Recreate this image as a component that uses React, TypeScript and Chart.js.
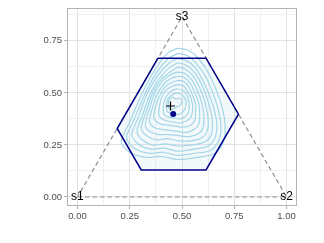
import React, { useEffect, useRef } from "react";
import { Chart, registerables } from "chart.js";
Chart.register(...registerables);

// ---- data ----
const xMajor = [0, 0.25, 0.5, 0.75, 1];
const xMinor = [0.125, 0.375, 0.625, 0.875];
const yMajor = [0, 0.25, 0.5, 0.75];
const yMinor = [0.125, 0.375, 0.625, 0.875];

const vertexLabels = ["s1", "s2", "s3"];
const vertexX = [0, 1, 0.5];
const vertexY = [0, 0, 0.866];

const hexX = [0.385, 0.615, 0.77, 0.615, 0.305, 0.19];
const hexY = [0.667, 0.667, 0.398, 0.13, 0.13, 0.329];

const plusPoint = { x: 0.445, y: 0.437 };
const dotPoint = { x: 0.458, y: 0.399 };

const contours: number[][][] = [
  [[0.48,0.715],[0.53,0.705],[0.575,0.67],[0.63,0.59],[0.68,0.47],[0.705,0.36],[0.70,0.27],[0.66,0.21],[0.57,0.19],[0.48,0.18],[0.40,0.195],[0.33,0.19],[0.25,0.215],[0.21,0.265],[0.25,0.36],[0.31,0.50],[0.37,0.61],[0.43,0.69]],
  [[0.48,0.69],[0.525,0.68],[0.565,0.645],[0.615,0.575],[0.66,0.465],[0.685,0.36],[0.68,0.28],[0.64,0.225],[0.56,0.21],[0.48,0.20],[0.41,0.215],[0.34,0.21],[0.27,0.235],[0.235,0.285],[0.27,0.37],[0.325,0.50],[0.38,0.60],[0.435,0.665]],
  [[0.48,0.665],[0.52,0.655],[0.56,0.625],[0.60,0.56],[0.64,0.465],[0.665,0.365],[0.66,0.29],[0.625,0.245],[0.555,0.23],[0.48,0.22],[0.415,0.235],[0.35,0.23],[0.29,0.255],[0.26,0.30],[0.29,0.38],[0.335,0.50],[0.39,0.59],[0.44,0.645]],
  [[0.48,0.645],[0.515,0.635],[0.555,0.605],[0.59,0.55],[0.625,0.46],[0.645,0.37],[0.64,0.30],[0.61,0.265],[0.55,0.25],[0.48,0.245],[0.42,0.255],[0.36,0.25],[0.31,0.275],[0.285,0.315],[0.31,0.39],[0.35,0.50],[0.40,0.58],[0.445,0.625]],
  [[0.48,0.625],[0.515,0.615],[0.55,0.585],[0.58,0.535],[0.61,0.455],[0.625,0.375],[0.62,0.315],[0.595,0.285],[0.545,0.27],[0.485,0.27],[0.43,0.28],[0.375,0.275],[0.33,0.295],[0.305,0.33],[0.325,0.40],[0.36,0.50],[0.405,0.57],[0.45,0.605]],
  [[0.48,0.60],[0.51,0.595],[0.545,0.565],[0.57,0.52],[0.595,0.45],[0.605,0.385],[0.60,0.33],[0.58,0.305],[0.535,0.29],[0.485,0.295],[0.435,0.30],[0.39,0.30],[0.345,0.315],[0.325,0.345],[0.34,0.41],[0.37,0.50],[0.41,0.56],[0.45,0.59]],
  [[0.48,0.58],[0.51,0.575],[0.54,0.545],[0.56,0.505],[0.58,0.45],[0.585,0.39],[0.58,0.35],[0.56,0.325],[0.52,0.31],[0.48,0.315],[0.44,0.32],[0.40,0.325],[0.365,0.335],[0.345,0.36],[0.355,0.415],[0.38,0.49],[0.415,0.545],[0.45,0.57]],
  [[0.48,0.56],[0.51,0.555],[0.535,0.525],[0.55,0.49],[0.565,0.445],[0.565,0.40],[0.56,0.365],[0.54,0.345],[0.505,0.335],[0.47,0.34],[0.435,0.345],[0.40,0.35],[0.38,0.36],[0.365,0.38],[0.37,0.42],[0.39,0.48],[0.42,0.53],[0.45,0.55]],
  [[0.48,0.54],[0.505,0.535],[0.525,0.51],[0.54,0.48],[0.55,0.445],[0.55,0.41],[0.54,0.38],[0.52,0.365],[0.49,0.355],[0.46,0.36],[0.43,0.365],[0.405,0.375],[0.39,0.39],[0.39,0.42],[0.40,0.47],[0.42,0.51],[0.45,0.53]],
  [[0.475,0.52],[0.50,0.515],[0.52,0.495],[0.53,0.465],[0.535,0.435],[0.53,0.405],[0.515,0.385],[0.49,0.375],[0.46,0.38],[0.435,0.385],[0.415,0.395],[0.41,0.42],[0.415,0.46],[0.43,0.49],[0.45,0.51]],
  [[0.47,0.50],[0.495,0.495],[0.51,0.48],[0.52,0.455],[0.515,0.425],[0.50,0.405],[0.475,0.395],[0.45,0.40],[0.43,0.41],[0.425,0.435],[0.43,0.465],[0.445,0.485]],
  [[0.455,0.48],[0.47,0.47],[0.49,0.475],[0.50,0.46],[0.49,0.44],[0.47,0.43],[0.45,0.42],[0.435,0.43],[0.435,0.455],[0.44,0.47]],
];

const FONT = "'Liberation Sans', Arial, Helvetica, sans-serif";

export default function App() {
  const ref = useRef<HTMLCanvasElement>(null);
  useEffect(() => {
    const canvas = ref.current!;
    const isMajor = (v: number) => Math.abs(v * 4 - Math.round(v * 4)) < 1e-6;
    const closed = (pts: number[][]) => [...pts, pts[0]].map(([x, y]) => ({ x, y }));

    const datasets: any[] = [];
    datasets.push({
      data: [plusPoint], showLine: false, pointStyle: "cross", pointRadius: 4.5,
      borderColor: "#000", backgroundColor: "#000", borderWidth: 1.2, order: 0,
    });
    datasets.push({
      data: [dotPoint], showLine: false, pointStyle: "circle", pointRadius: 3,
      borderColor: "#00008B", backgroundColor: "#00008B", borderWidth: 0, order: 1,
    });
    datasets.push({
      data: closed(hexX.map((x, i) => [x, hexY[i]])), showLine: true, pointRadius: 0,
      borderColor: "#00008B", borderWidth: 1.5, tension: 0, order: 2,
    });
    contours.forEach((c) =>
      datasets.push({
        data: closed(c), showLine: true, pointRadius: 0, borderColor: "#a3d6e8",
        borderWidth: 1.2, tension: 0.3, order: 3,
      })
    );
    datasets.push({
      data: closed(vertexX.map((x, i) => [x, vertexY[i]])), showLine: true, pointRadius: 0,
      borderColor: "#8f8f8f", borderWidth: 1.2, borderDash: [4.5, 3], tension: 0, order: 10,
    });

    const decor = {
      id: "decor",
      beforeDatasetsDraw(chart: any) {
        const { ctx, chartArea, scales } = chart;
        const xs = scales.x, ys = scales.y;
        ctx.save();
        ctx.beginPath();
        hexX.forEach((x, i) => {
          const px = xs.getPixelForValue(x), py = ys.getPixelForValue(hexY[i]);
          if (i === 0) ctx.moveTo(px, py); else ctx.lineTo(px, py);
        });
        ctx.closePath();
        ctx.fillStyle = "rgba(173,216,230,0.15)";
        ctx.fill();
        ctx.strokeStyle = "#b3b3b3";
        ctx.lineWidth = 1;
        ctx.strokeRect(Math.round(chartArea.left) + 0.5, Math.round(chartArea.top) + 0.5,
          Math.round(chartArea.right - chartArea.left) - 1, Math.round(chartArea.bottom - chartArea.top) - 1);
        ctx.restore();
      },
      afterDatasetsDraw(chart: any) {
        const { ctx, scales } = chart;
        ctx.save();
        ctx.fillStyle = "#000";
        ctx.font = `12px ${FONT}`;
        ctx.textAlign = "center";
        ctx.textBaseline = "middle";
        vertexLabels.forEach((t, i) => {
          ctx.fillText(t, scales.x.getPixelForValue(vertexX[i]), scales.y.getPixelForValue(vertexY[i]));
        });
        ctx.restore();
      },
    };

    const axisCommon = (major: number[], minor: number[]) => ({
      type: "linear",
      afterBuildTicks: (s: any) => {
        s.ticks = [...major, ...minor].sort((a, b) => a - b).map((v) => ({ value: v }));
      },
      ticks: {
        autoSkip: false, maxRotation: 0, padding: 2, color: "#4d4d4d",
        font: { family: FONT, size: 9.5 },
        callback: (v: number) => (isMajor(v) ? Number(v).toFixed(2) : ""),
      },
      grid: {
        color: (c: any) => (c.tick && isMajor(c.tick.value) ? "#e2e2e2" : "#f0f0f0"),
        lineWidth: 1,
        drawTicks: true,
        tickLength: 3,
        tickColor: (c: any) => (c.tick && isMajor(c.tick.value) ? "#b3b3b3" : "rgba(0,0,0,0)"),
      },
      border: { display: false },
    });

    const chart = new Chart(canvas, {
      type: "scatter",
      data: { datasets },
      plugins: [decor],
      options: {
        animation: false,
        responsive: false,
        devicePixelRatio: 1,
        layout: { padding: { top: 6, right: 27, left: 0, bottom: 0 } },
        plugins: { legend: { display: false }, tooltip: { enabled: false } },
        scales: {
          x: { ...axisCommon(xMajor, xMinor), min: -0.05, max: 1.05, afterFit: (s: any) => { s.height = 37; } },
          y: { ...axisCommon(yMajor, yMinor), min: -0.0433, max: 0.9093, afterFit: (s: any) => { s.width = 67; } },
        } as any,
      },
    } as any);
    return () => chart.destroy();
  }, []);
  return (
    <div style={{ position: "fixed", left: 0, top: 0, width: 324, height: 243, background: "#fff" }}>
      <canvas ref={ref} width={324} height={243} style={{ display: "block" }} />
    </div>
  );
}
